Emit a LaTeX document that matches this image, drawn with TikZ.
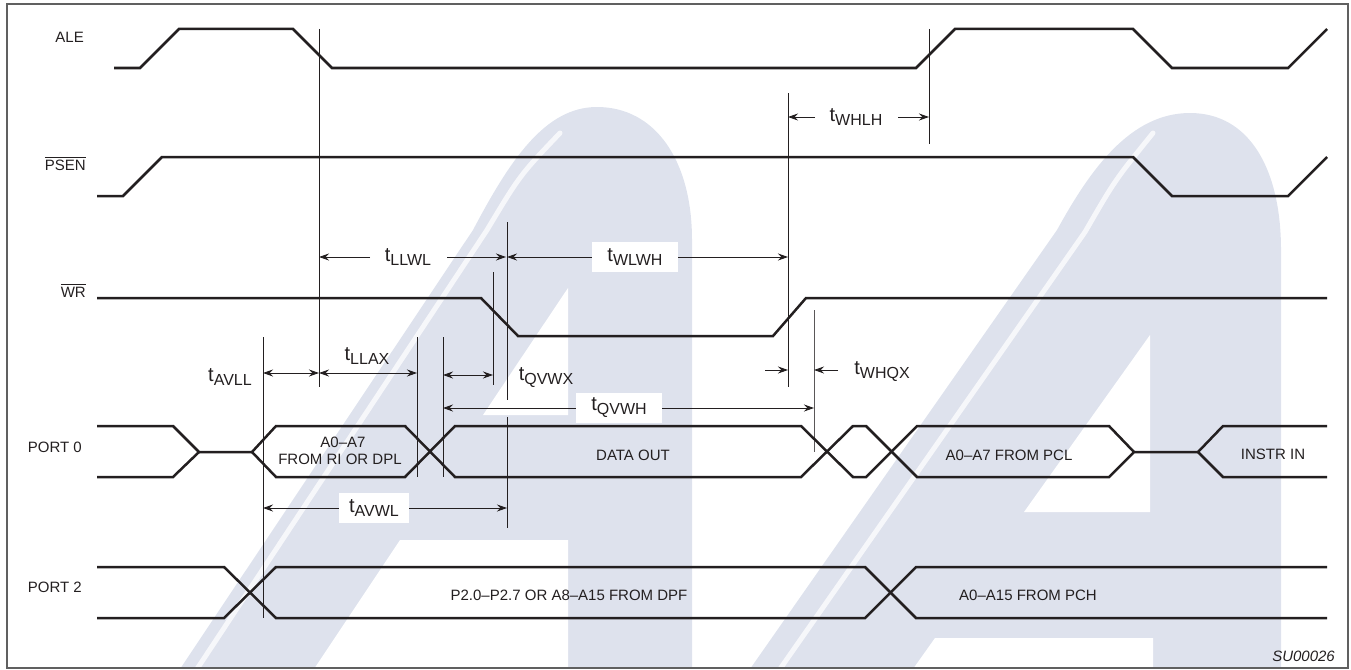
\documentclass[tikz,border=0pt]{standalone}
\usepackage{fontspec}
\setmainfont{Liberation Sans}
\usetikzlibrary{arrows.meta}
\definecolor{wm}{HTML}{DEE2ED}
\definecolor{ink}{HTML}{231F20}
\definecolor{framec}{HTML}{606060}
\newcommand{\tsym}[1]{{\fontsize{20}{20}\selectfont t}\raisebox{-4pt}{\fontsize{16}{16}\selectfont #1}}
\newcommand{\ovl}[1]{\leavevmode\vbox{\hrule height 0.9pt\kern1.6pt\hbox{#1}}}
\tikzset{
  sig/.style={line width=2.5pt, draw=ink, line join=miter},
  refl/.style={line width=0.9pt, draw=ink},
  dimarrow/.style={line width=0.9pt, draw=ink, -{Stealth[length=10pt,width=7pt]}},
  dimboth/.style={line width=0.9pt, draw=ink, {Stealth[length=10pt,width=7pt]}-{Stealth[length=10pt,width=7pt]}},
  sname/.style={font=\fontsize{15}{15}\selectfont, text=ink, inner sep=0pt, anchor=base east},
  busl/.style={font=\fontsize{15}{15}\selectfont, text=ink, inner sep=0pt, anchor=base},
  tlab/.style={inner sep=0pt, text=ink, anchor=center},
  tbox/.style={tlab, fill=white, minimum width=86pt, minimum height=30pt},
  gloss/.style={draw=white, line width=5pt, opacity=0.75, line cap=round},
}
\begin{document}
\begin{tikzpicture}[x=1pt,y=-1pt]
\useasboundingbox (0,0) rectangle (1351,669);
% watermark
\begin{scope}
\clip (8,5) rectangle (1347,667);
\fill[wm] (180,669) -- (473,230) .. controls (510,160) and (545,107) .. (597,107) .. controls (655,107) and (692,160) .. (692,240) -- (692,669) -- cycle;
\fill[white] (568,288) -- (568,415) -- (483,415) -- cycle;
\fill[white] (400,540) -- (568,540) -- (568,669) -- (314,669) -- cycle;
\draw[gloss] (560,133) .. controls (520,175) .. (487,230) -- (197,669);
\fill[wm] (750,669) -- (1057,230) .. controls (1090,170) and (1130,113) .. (1190,113) .. controls (1250,113) and (1281,170) .. (1281,250) -- (1281,669) -- cycle;
\fill[white] (1150,335) -- (1150,512) -- (1024,512) -- cycle;
\fill[white] (935,638) -- (1153,638) -- (1153,669) -- (913,669) -- cycle;
\draw[gloss] (1153,133) .. controls (1115,180) .. (1085,232) -- (780,669);
\end{scope}
% frame
\draw[line width=2pt, draw=framec] (7,4) rectangle (1348,668);
% signal names
\node[sname] (nALE) at (84,43) {ALE};
\node[sname] (nPSEN) at (86,170) {\ovl{PSEN}};
\node[sname] (nWR) at (86,297) {\ovl{WR}};
\node[sname] (nP0) at (82,452) {PORT 0};
\node[sname] (nP2) at (82,592) {PORT 2};
% reference lines
\coordinate (v319t) at (319,29);  \coordinate (v319b) at (319,387);
\coordinate (v263t) at (263,337); \coordinate (v263b) at (263,618);
\coordinate (v417t) at (417,337); \coordinate (v417b) at (417,477);
\coordinate (v443t) at (443,337); \coordinate (v443b) at (443,477);
\coordinate (v493t) at (493,272); \coordinate (v493b) at (493,385);
\coordinate (v507t) at (507,222); \coordinate (v507m) at (507,400);
\coordinate (v507n) at (507,417); \coordinate (v507b) at (507,528);
\coordinate (v788t) at (788,93);  \coordinate (v788b) at (788,387);
\coordinate (v814t) at (814,310); \coordinate (v814b) at (814,452);
\coordinate (v929t) at (929,29);  \coordinate (v929b) at (929,144);
\draw[refl] (v319t) -- (v319b);
\draw[refl] (v263t) -- (v263b);
\draw[refl] (v417t) -- (v417b);
\draw[refl] (v443t) -- (v443b);
\draw[refl] (v493t) -- (v493b);
\draw[refl] (v507t) -- (v507m);
\draw[refl] (v507n) -- (v507b);
\draw[refl] (v788t) -- (v788b);
\draw[refl, draw=ink!75] (v814t) -- (v814b);
\draw[refl] (v929t) -- (v929b);
% signals
\draw[sig] (114,68) -- (140,68) -- (179,29) -- (293,29) -- (332,68) -- (916,68) -- (955,29) -- (1133,29) -- (1172,68) -- (1288,68) -- (1327,29);
\draw[sig] (97,196) -- (123,196) -- (162,157) -- (1133,157) -- (1172,196) -- (1288,196) -- (1327,157);
\draw[sig] (97,298) -- (481,298) -- (518,336) -- (773,336) -- (806,298) -- (1327,298);
\draw[sig] (97,426) -- (173,426) -- (199,452) -- (252,452) -- (276,426) -- (405,426) -- (455,477) -- (801,477) -- (853,426) -- (866,426) -- (917,477) -- (1109,477) -- (1134,452) -- (1198,452) -- (1223,426) -- (1327,426);
\draw[sig] (97,477) -- (173,477) -- (199,452);
\draw[sig] (252,452) -- (276,477) -- (405,477) -- (455,426) -- (801,426) -- (853,477) -- (866,477) -- (917,426) -- (1109,426) -- (1134,452);
\draw[sig] (1198,452) -- (1223,477) -- (1327,477);
\draw[sig] (97,567) -- (224,567) -- (276,618) -- (865,618) -- (916,567) -- (1327,567);
\draw[sig] (97,618) -- (224,618) -- (276,567) -- (865,567) -- (916,618) -- (1327,618);
% bus labels
\node[busl] (bA07) at (343,447) {A0–A7};
\node[busl] (bFRI) at (340,464) {FROM RI OR DPL};
\node[busl] (bDATA) at (633,460) {DATA OUT};
\node[busl] (bPCL) at (1009,460) {A0–A7 FROM PCL};
\node[busl] (bINSTR) at (1273,459) {INSTR IN};
\node[busl] (bDPF) at (569,600) {P2.0–P2.7 OR A8–A15 FROM DPF};
\node[busl] (bPCH) at (1028,600) {A0–A15 FROM PCH};
\node[font=\fontsize{15}{15}\selectfont\itshape, text=ink, inner sep=0pt, anchor=base east] (fig) at (1335,661) {SU00026};
% timing labels and arrows
\node[tlab] (tWHLH) at (856,117) {\tsym{WHLH}};
\draw[dimarrow] (815,117) -- (v788t |- 0,117);
\draw[dimarrow] (898,117) -- (v929t |- 0,117);
\node[tlab] (tLLWL) at (408,257) {\tsym{LLWL}};
\draw[dimarrow] (370,257) -- (v319t |- 0,257);
\draw[dimarrow] (447,257) -- (506,257);
\node[tbox] (tWLWH) at (635,257) {\tsym{WLWH}};
\draw[dimarrow] (tWLWH.west) -- (v507t |- 0,257);
\draw[dimarrow] (tWLWH.east) -- (v788t |- 0,257);
\node[tlab] (tAVLL) at (230,377) {\tsym{AVLL}};
\draw[dimboth] (v263t |- 0,373) -- (v319t |- 0,373);
\node[tlab] (tLLAX) at (367,356) {\tsym{LLAX}};
\draw[dimboth] (v319t |- 0,373) -- (v417t |- 0,373);
\node[tlab] (tQVWX) at (546,378) {\tsym{QVWX}};
\draw[dimboth] (v443t |- 0,375) -- (v493t |- 0,375);
\node[tbox] (tQVWH) at (619,408) {\tsym{QVWH}};
\draw[dimarrow] (tQVWH.west) -- (v443t |- 0,408);
\draw[dimarrow] (tQVWH.east) -- (v814t |- 0,408);
\node[tlab] (tWHQX) at (882,372) {\tsym{WHQX}};
\draw[dimarrow] (765,370) -- (v788t |- 0,370);
\draw[dimarrow] (838,370) -- (v814t |- 0,370);
\node[tbox, minimum width=70pt] (tAVWL) at (374,508) {\tsym{AVWL}};
\draw[dimarrow] (tAVWL.west) -- (v263t |- 0,508);
\draw[dimarrow] (tAVWL.east) -- (v507t |- 0,508);
\end{tikzpicture}
\end{document}
